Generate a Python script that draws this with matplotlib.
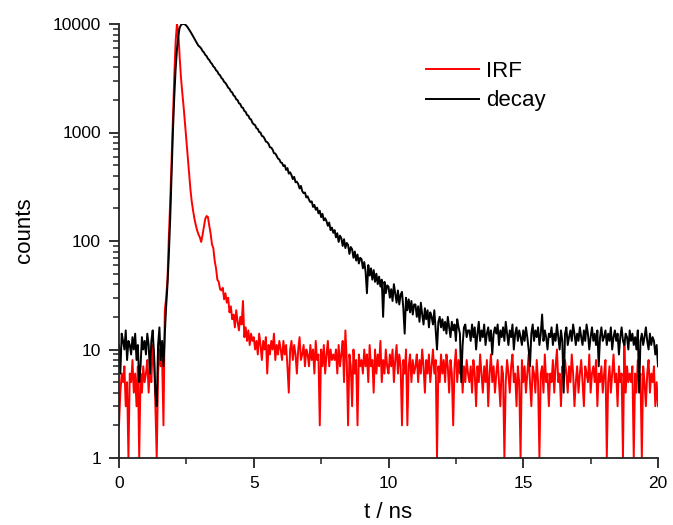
import numpy as np
import matplotlib
matplotlib.use('Agg')
import matplotlib.pyplot as plt
from matplotlib.ticker import LogLocator, MultipleLocator, NullFormatter

plt.rcParams['font.family'] = ['Liberation Sans', 'DejaVu Sans']

# time channels (ns), 0.05 ns per channel
t = np.linspace(0, 20, 401)

# IRF counts, one row per ns (20 channels each), last value at t = 20
irf = [
    2, 4, 6, 5, 7, 3, 5, 1, 6, 5, 8, 4, 6, 3, 7, 1, 6, 4, 7, 5,
    6, 8, 4, 7, 5, 11, 9, 3, 1, 6, 10, 7, 8, 2, 23, 30, 45, 110, 230, 550,
    1400, 3200, 6800, 10000, 8500, 5000, 3200, 2300, 1700, 1200, 850, 600, 420, 300, 230, 190, 160, 140, 125, 115,
    108, 98, 114, 136, 160, 170, 166, 138, 117, 93, 86, 66, 56, 44, 42, 36, 35, 37, 29, 33,
    27, 30, 22, 25, 19, 21, 16, 23, 18, 15, 20, 17, 28, 13, 16, 12, 15, 11, 14, 12,
    13, 10, 12, 9, 14, 11, 8, 12, 10, 13, 6, 11, 9, 12, 10, 14, 8, 11, 9, 12,
    10, 8, 12, 9, 11, 7, 4, 10, 12, 8, 11, 9, 6, 10, 13, 8, 9, 11, 7, 10,
    9, 7, 11, 8, 10, 6, 12, 8, 9, 2, 10, 7, 11, 6, 9, 12, 7, 10, 8, 9,
    8, 10, 6, 11, 7, 9, 12, 5, 15, 8, 2, 9, 7, 3, 10, 6, 8, 2, 9, 7,
    8, 6, 10, 7, 9, 5, 11, 7, 8, 4, 10, 6, 9, 7, 12, 5, 8, 6, 10, 7,
    6, 9, 7, 10, 5, 8, 11, 6, 9, 7, 2, 8, 6, 10, 2, 7, 9, 5, 8, 6,
    7, 9, 5, 8, 6, 10, 7, 4, 8, 6, 9, 5, 7, 10, 6, 8, 1, 7, 5, 9,
    6, 8, 5, 9, 7, 4, 8, 6, 2, 7, 10, 5, 8, 6, 9, 4, 7, 5, 8, 6,
    5, 7, 4, 8, 6, 3, 7, 5, 9, 6, 4, 7, 5, 8, 3, 6, 9, 5, 7, 4,
    6, 8, 5, 3, 7, 6, 1, 5, 8, 6, 4, 7, 9, 5, 6, 3, 7, 5, 1, 8,
    5, 7, 4, 6, 9, 5, 3, 7, 6, 4, 8, 5, 1, 6, 7, 4, 9, 5, 6, 3,
    6, 5, 8, 4, 7, 10, 5, 6, 3, 7, 5, 8, 6, 4, 7, 5, 9, 6, 3, 5,
    7, 4, 6, 8, 5, 3, 7, 6, 5, 9, 4, 6, 7, 5, 8, 3, 6, 5, 7, 4,
    6, 8, 1, 5, 7, 4, 6, 9, 5, 6, 3, 7, 5, 6, 1, 12, 4, 7, 5, 6,
    5, 7, 1, 6, 4, 8, 5, 6, 1, 7, 5, 3, 6, 8, 4, 6, 5, 7, 3, 5,
    3,
]

# fluorescence decay counts, same channels
decay = [
    11, 6, 14, 12, 10, 15, 8, 12, 11, 9, 13, 10, 14, 8, 11, 5, 7, 13, 10, 12,
    9, 14, 11, 6, 12, 15, 9, 4, 3, 11, 16, 8, 12, 7, 14, 25, 40, 75, 160, 400,
    1000, 2100, 3800, 5800, 7800, 9200, 9800, 10000, 10000, 9900, 9650, 9300, 8900, 8500, 8100, 7700, 7300, 6950, 6600, 6300,
    6150, 5950, 5640, 5480, 5200, 5060, 4790, 4660, 4420, 4290, 4060, 3960, 3750, 3650, 3450, 3370, 3180, 3100, 2930, 2860,
    2740, 2590, 2530, 2390, 2340, 2200, 2150, 2020, 1990, 1860, 1830, 1710, 1690, 1580, 1550, 1450, 1430, 1340, 1320, 1230,
    1190, 1170, 1095, 1080, 1010, 1000, 930, 920, 880, 825, 815, 785, 730, 725, 695, 645, 640, 610, 575, 565,
    530, 525, 490, 500, 452, 470, 418, 430, 405, 372, 390, 348, 352, 335, 305, 322, 288, 276, 280, 252,
    258, 240, 228, 232, 206, 215, 194, 203, 180, 190, 166, 178, 155, 162, 152, 138, 148, 126, 133, 119,
    126, 108, 118, 98, 112, 106, 90, 104, 86, 96, 92, 76, 88, 84, 70, 80, 66, 75, 62, 70,
    68, 56, 64, 52, 33, 60, 48, 56, 44, 54, 42, 50, 40, 47, 38, 44, 20, 42, 33, 39,
    38, 30, 36, 28, 40, 33, 27, 35, 26, 32, 34, 24, 14, 30, 23, 29, 22, 28, 21, 26,
    26, 20, 25, 18, 27, 21, 17, 24, 19, 23, 16, 22, 20, 17, 23, 15, 10, 18, 20, 16,
    19, 15, 18, 14, 20, 16, 13, 18, 15, 17, 12, 19, 16, 14, 5, 11, 16, 17, 13, 15,
    15, 12, 17, 13, 16, 10, 14, 18, 12, 15, 13, 17, 11, 14, 16, 12, 15, 9, 14, 16,
    14, 17, 11, 15, 13, 16, 12, 18, 14, 11, 15, 13, 17, 10, 14, 16, 12, 15, 13, 11,
    15, 12, 16, 13, 10, 7, 14, 17, 12, 15, 13, 16, 11, 14, 21, 12, 15, 13, 10, 14,
    13, 16, 11, 14, 12, 17, 13, 10, 15, 12, 4, 14, 16, 11, 13, 15, 12, 17, 14, 11,
    14, 12, 16, 13, 11, 15, 12, 17, 14, 10, 13, 16, 12, 14, 11, 15, 7, 13, 16, 12,
    13, 15, 11, 14, 12, 16, 10, 13, 15, 12, 14, 9, 13, 16, 12, 11, 14, 13, 10, 15,
    12, 14, 11, 13, 10, 15, 4, 12, 14, 11, 13, 16, 12, 10, 14, 11, 13, 12, 9, 11,
    7,
]

xticks = [0, 5, 10, 15, 20]
yticks = [1, 10, 100, 1000, 10000]
ytick_labels = ['1', '10', '100', '1000', '10000']

fig = plt.figure(figsize=(6.73, 5.25), dpi=100)
ax = fig.add_axes([119 / 673, 67 / 525, 539 / 673, 434 / 525])

ax.plot(t, irf, color='#ff0000', lw=1.4, label='IRF')
ax.plot(t, decay, color='black', lw=1.4, label='decay')

ax.set_yscale('log')
ax.set_xlim(0, 20)
ax.set_ylim(1, 10000)

ax.set_xticks(xticks)
ax.xaxis.set_minor_locator(MultipleLocator(2.5))
ax.set_yticks(yticks)
ax.set_yticklabels(ytick_labels)
ax.yaxis.set_minor_locator(LogLocator(base=10, subs=range(2, 10)))
ax.yaxis.set_minor_formatter(NullFormatter())

# only left and bottom axis lines, like the original
ax.spines['top'].set_visible(False)
ax.spines['right'].set_visible(False)
for s in ['left', 'bottom']:
    ax.spines[s].set_linewidth(1.3)
    ax.spines[s].set_color('#222222')
ax.tick_params(which='major', direction='out', length=7, width=1.3, labelsize=12.5, pad=6, colors='#222222')
ax.tick_params(which='minor', direction='out', length=4, width=1.1, colors='#222222')
ax.tick_params(labelcolor='black')

ax.set_xlabel('t / ns', fontsize=16, labelpad=8)
ax.set_ylabel('counts', fontsize=16, labelpad=13)
ax.yaxis.label.set_y(0.525)

ax.legend(loc='upper left', bbox_to_anchor=(426 / 673, 1 - 61 / 525), bbox_transform=fig.transFigure,
          frameon=False, fontsize=16, handlelength=2.4, handletextpad=0.3, labelspacing=0.38,
          borderpad=0, borderaxespad=0)

fig.savefig('out.png', dpi=100)
